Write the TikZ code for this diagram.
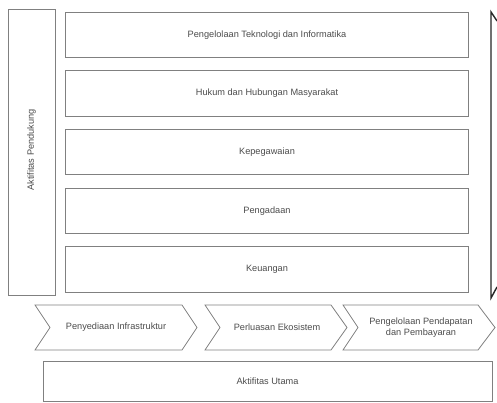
\documentclass[tikz,border=0pt]{standalone}
\usepackage{fontspec}
\setmainfont{Liberation Sans}
\begin{document}
\begin{tikzpicture}[x=1pt,y=-1pt,
  frame/.style={draw=black!50,line width=0.8pt,fill=white},
  lbl/.style={font=\fontsize{9.2}{10.5}\selectfont,text=black!70,align=center},
  chev/.style={draw=black!50,line width=0.8pt,fill=white,line join=miter}]
\useasboundingbox (0,0) rectangle (497,403);
\fill[white] (0,0) rectangle (497,403);

% support activities label column
\draw[frame] (8,9) rectangle (55,295);
\node[lbl,rotate=90] (pendukung) at (31.5,150) {Aktifitas Pendukung};

% support activity rows
\foreach \t/\name/\txt in {12/tik/Pengelolaan Teknologi dan Informatika,
                           70.5/hukum/Hukum dan Hubungan Masyarakat,
                           129/pegawai/Kepegawaian,
                           188/pengadaan/Pengadaan,
                           246.5/keuangan/Keuangan}{
  \draw[frame] (65,\t) rectangle (468,\t+45.5);
  \node[lbl] (\name) at (267,\t+22.75) {\txt};
}

% margin bracket on the right edge
\draw[black!85,line width=1.4pt,line join=miter]
  (497,21) -- (491,12) -- (491,298) -- (497,287);

% primary activity chevrons
\draw[chev] (35,305) -- (182,305) -- (197,327.5) -- (182,350) -- (35,350) -- (50,327.5) -- cycle;
\node[lbl] (infra) at (116,327.5) {Penyediaan Infrastruktur};
\draw[chev] (205,305) -- (331,305) -- (347,327.5) -- (331,350) -- (205,350) -- (220,327.5) -- cycle;
\node[lbl] (ekosistem) at (277,327.5) {Perluasan Ekosistem};
\draw[chev] (343,305) -- (478,305) -- (495,327.5) -- (478,350) -- (343,350) -- (358,327.5) -- cycle;
\node[lbl] (pendapatan) at (421,327.5) {Pengelolaan Pendapatan\\dan Pembayaran};

% primary activities label bar
\draw[frame] (43,361) rectangle (492,401);
\node[lbl] (utama) at (267.5,381) {Aktifitas Utama};
\end{tikzpicture}
\end{document}
